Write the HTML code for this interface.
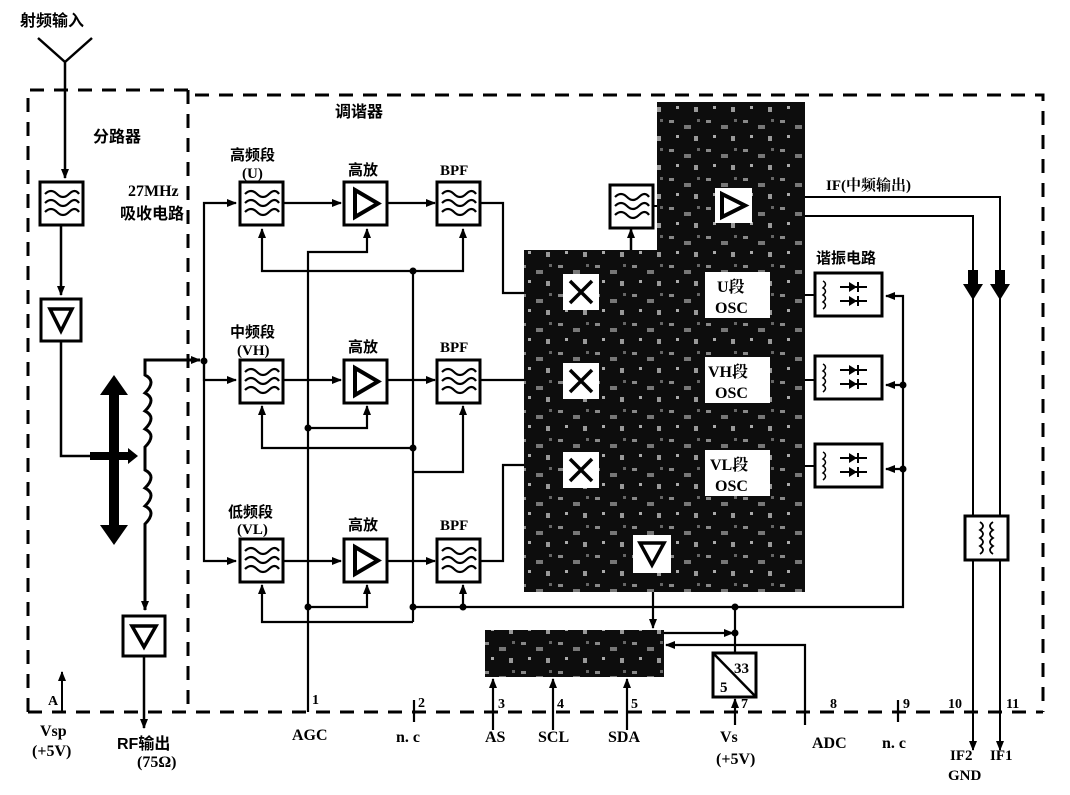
<!DOCTYPE html>
<html><head><meta charset="utf-8"><style>
html,body{margin:0;padding:0;background:#fff}
svg{display:block}
text{font-family:"Liberation Serif","Noto Serif CJK SC",serif;font-weight:bold;fill:#000}
.c{font-family:"Liberation Sans","Noto Sans CJK SC",sans-serif;font-weight:bold}
</style></head><body>
<svg width="1070" height="795" viewBox="0 0 1070 795" xmlns="http://www.w3.org/2000/svg">
<defs>
<marker id="a" markerWidth="10" markerHeight="10" refX="9" refY="5" orient="auto" markerUnits="userSpaceOnUse"><path d="M0,1 L10,5 L0,9 Z" fill="#000"/></marker>
<g id="flt"><rect x="0" y="0" width="43" height="43" fill="#fff" stroke="#000" stroke-width="3"/>
<path d="M5,12 q6,-6 12,0 t12,0 t10,0 M5,21 q6,-6 12,0 t12,0 t10,0 M5,30 q6,-6 12,0 t12,0 t10,0" fill="none" stroke="#000" stroke-width="2.2"/></g>
<g id="amp"><rect x="0" y="0" width="43" height="43" fill="#fff" stroke="#000" stroke-width="3"/><path d="M11,8 L34,21.5 L11,35 Z" fill="none" stroke="#000" stroke-width="4"/></g>
<g id="res"><rect x="0" y="0" width="67" height="43" fill="#fff" stroke="#000" stroke-width="3"/>
<path d="M8,8 q5,3 0,7 q5,3 0,7 q5,3 0,7 q5,3 0,7" fill="none" stroke="#000" stroke-width="1.5"/>
<path d="M25,14 H52 M25,28 H52" stroke="#000" stroke-width="2"/><path d="M34,9 L42,14 L34,19Z M34,23 L42,28 L34,33Z" fill="#000"/><path d="M43,9 V19 M43,23 V33" stroke="#000" stroke-width="2"/></g>
<pattern id="noise" width="37" height="29" patternUnits="userSpaceOnUse"><rect width="37" height="29" fill="#0d0d0d"/>
<rect x="3" y="4" width="5" height="3" fill="#888"/><rect x="18" y="9" width="7" height="4" fill="#777"/><rect x="28" y="20" width="4" height="5" fill="#999"/><rect x="10" y="19" width="3" height="3" fill="#aaa"/><rect x="31" y="3" width="3" height="3" fill="#666"/></pattern>
</defs>

<!-- dashed frames -->
<g fill="none" stroke="#000" stroke-width="3" stroke-dasharray="14,10">
<path d="M28,712 V90 H188"/>
<path d="M188,90 V712"/>
<path d="M195,95 H1043 V712"/>
<path d="M28,712 H1043"/>
</g>

<!-- antenna -->
<path d="M38,38 L65,62 L92,38 M65,62 V178" fill="none" stroke="#000" stroke-width="2.5" marker-end="url(#a)"/>
<text class="c" x="20" y="26" font-size="16">射频输入</text>
<use href="#flt" x="40" y="182"/>
<text x="128" y="196" font-size="16">27MHz</text>
<text class="c" x="120" y="219" font-size="16">吸收电路</text>
<text class="c" x="93" y="142" font-size="16">分路器</text>
<text class="c" x="335" y="117" font-size="16">调谐器</text>
<path d="M61,225 V295" stroke="#000" stroke-width="2.5" marker-end="url(#a)"/>
<rect x="41" y="299" width="40" height="42" fill="#fff" stroke="#000" stroke-width="3"/>
<path d="M50,309 L72,309 L61,331 Z" fill="none" stroke="#000" stroke-width="3.5"/>
<path d="M61,341 V456 H105" fill="none" stroke="#000" stroke-width="2.5"/>
<path d="M90,452 H128 L128,448 L138,456 L128,464 L128,460 H90 Z" fill="#000"/>
<!-- big double arrow -->
<path d="M114,375 L128,395 L119,395 L119,525 L128,525 L114,545 L100,525 L109,525 L109,395 L100,395 Z" fill="#000"/>
<!-- coil -->
<path d="M200,360 H145 V375 q12,6 0,18 q12,6 0,18 q12,6 0,18 q12,6 0,18 V456 V470 q12,6 0,18 q12,6 0,18 q12,6 0,18 V610" fill="none" stroke="#000" stroke-width="3" marker-end="url(#a)"/>
<path d="M180,360 H200" stroke="#000" stroke-width="2.5" marker-end="url(#a)"/>
<rect x="123" y="616" width="42" height="40" fill="#fff" stroke="#000" stroke-width="3"/>
<path d="M132,626 L156,626 L144,647 Z" fill="none" stroke="#000" stroke-width="3.5"/>
<path d="M144,656 V728" stroke="#000" stroke-width="2.5" marker-end="url(#a)"/>
<text class="c" x="117" y="749" font-size="16">RF输出</text>
<text x="137" y="767" font-size="16">(75Ω)</text>
<path d="M62,712 V672" stroke="#000" stroke-width="2" marker-end="url(#a)"/>
<text x="48" y="705" font-size="14">A</text>
<text x="40" y="736" font-size="16">Vsp</text>
<text x="32" y="756" font-size="16">(+5V)</text>

<!-- bus -->
<g fill="none" stroke="#000" stroke-width="2.2">
<path d="M204,361 V203 H236" marker-end="url(#a)"/>
<path d="M204,361 V380 H236" marker-end="url(#a)"/>
<path d="M204,361 V561 H236" marker-end="url(#a)"/>
<path d="M283,203 H341" marker-end="url(#a)"/>
<path d="M283,380 H341" marker-end="url(#a)"/>
<path d="M283,561 H341" marker-end="url(#a)"/>
<path d="M387,203 H435" marker-end="url(#a)"/>
<path d="M387,380 H435" marker-end="url(#a)"/>
<path d="M387,561 H435" marker-end="url(#a)"/>
<path d="M480,203 H503 V293 H527"/>
<path d="M480,380 H527"/>
<path d="M480,561 H503 V465 H527"/>
<!-- controls -->
<path d="M413,271 H262 V229" marker-end="url(#a)"/>
<path d="M413,271 H463 V229" marker-end="url(#a)"/>
<path d="M413,448 H262 V406" marker-end="url(#a)"/>
<path d="M413,472 H463 V406" marker-end="url(#a)"/>
<path d="M413,622 H262 V585" marker-end="url(#a)"/>
<path d="M413,271 V622"/>
<path d="M413,607 H903 V296 H886" marker-end="url(#a)"/>
<path d="M463,607 V585" marker-end="url(#a)"/>
<path d="M903,385 H886" marker-end="url(#a)"/>
<path d="M903,469 H886" marker-end="url(#a)"/>
<!-- AGC -->
<path d="M308,712 V252 H367 V229" marker-end="url(#a)"/>
<path d="M308,428 H367 V406" marker-end="url(#a)"/>
<path d="M308,607 H367 V585" marker-end="url(#a)"/>
</g>
<g fill="#000"><circle cx="204" cy="361" r="3.5"/><circle cx="413" cy="271" r="3.5"/><circle cx="413" cy="448" r="3.5"/><circle cx="413" cy="607" r="3.5"/><circle cx="463" cy="607" r="3.5"/><circle cx="308" cy="428" r="3.5"/><circle cx="308" cy="607" r="3.5"/><circle cx="735" cy="607" r="3.5"/><circle cx="903" cy="385" r="3.5"/><circle cx="903" cy="469" r="3.5"/><circle cx="735" cy="633" r="3.5"/></g>

<use href="#flt" x="240" y="182"/><use href="#flt" x="240" y="360"/><use href="#flt" x="240" y="539"/>
<use href="#amp" x="344" y="182"/><use href="#amp" x="344" y="360"/><use href="#amp" x="344" y="539"/>
<use href="#flt" x="437" y="182"/><use href="#flt" x="437" y="360"/><use href="#flt" x="437" y="539"/>
<g class="c" font-size="15">
<text class="c" x="230" y="160">高频段</text><text x="242" y="178">(U)</text>
<text class="c" x="230" y="337">中频段</text><text x="237" y="355">(VH)</text>
<text class="c" x="228" y="517">低频段</text><text x="237" y="534">(VL)</text>
<text class="c" x="348" y="175">高放</text><text class="c" x="348" y="352">高放</text><text class="c" x="348" y="530">高放</text>
<text x="440" y="175">BPF</text><text x="440" y="352">BPF</text><text x="440" y="530">BPF</text>
</g>

<!-- dark IC -->
<path d="M657,102 H805 V592 H524 V250 H657 Z" fill="url(#noise)"/>
<g fill="#fff"><rect x="563" y="274" width="36" height="36"/><rect x="563" y="363" width="36" height="36"/><rect x="563" y="452" width="36" height="36"/>
<rect x="705" y="272" width="65" height="46"/><rect x="705" y="357" width="65" height="46"/><rect x="705" y="450" width="65" height="46"/>
<rect x="715" y="188" width="37" height="35"/><rect x="633" y="535" width="38" height="38"/></g>
<g stroke="#000" stroke-width="3.5"><path d="M570,281 L592,303 M592,281 L570,303 M570,370 L592,392 M592,370 L570,392 M570,459 L592,481 M592,459 L570,481"/></g>
<path d="M722,194 L745,205.5 L722,217 Z" fill="none" stroke="#000" stroke-width="4"/>
<path d="M640,543 L664,543 L652,565 Z" fill="none" stroke="#000" stroke-width="3.5"/>
<g font-size="16"><text x="717" y="292">U段</text><text x="715" y="313">OSC</text>
<text x="708" y="377">VH段</text><text x="715" y="398">OSC</text>
<text x="710" y="470">VL段</text><text x="715" y="491">OSC</text></g>
<use href="#flt" x="610" y="185"/>
<path d="M653,206 H657" stroke="#000" stroke-width="2"/>
<path d="M631,250 V229" stroke="#000" stroke-width="2.5" marker-end="url(#a)"/>

<!-- resonators -->
<use href="#res" x="815" y="273"/><use href="#res" x="815" y="356"/><use href="#res" x="815" y="444"/>
<path d="M805,295 H815 M805,380 H815 M805,466 H815" stroke="#000" stroke-width="2"/>
<text class="c" x="816" y="263" font-size="15">谐振电路</text>

<!-- IF -->
<text x="826" y="190" font-size="15">IF(中频输出)</text>
<path d="M805,197 H1000 V750" fill="none" stroke="#000" stroke-width="2" marker-end="url(#a)"/>
<path d="M805,216 H973 V750" fill="none" stroke="#000" stroke-width="2" marker-end="url(#a)"/>
<path d="M968,270 H978 V284 H983 L973,300 L963,284 H968Z M995,270 H1005 V284 H1010 L1000,300 L990,284 H995Z" fill="#000"/>
<rect x="965" y="516" width="43" height="44" fill="#fff" stroke="#000" stroke-width="3"/>
<path d="M980,522 q6,4 0,8 q6,4 0,8 q6,4 0,8 q6,4 0,8 M993,522 q-6,4 0,8 q-6,4 0,8 q-6,4 0,8 q-6,4 0,8" fill="none" stroke="#000" stroke-width="1.8"/>
<text x="950" y="760" font-size="15">IF2</text><text x="990" y="760" font-size="15" fill="#444">IF1</text>
<text x="948" y="780" font-size="15">GND</text>

<!-- control block -->
<rect x="485" y="630" width="179" height="47" fill="url(#noise)"/>
<path d="M653,592 V628" stroke="#000" stroke-width="2.2" marker-end="url(#a)"/>
<path d="M664,633 H733" stroke="#000" stroke-width="2.2" marker-end="url(#a)"/>
<path d="M805,725 V645 H666" fill="none" stroke="#000" stroke-width="2.2" marker-end="url(#a)"/>
<path d="M735,607 V653" stroke="#000" stroke-width="2.2"/>
<rect x="713" y="653" width="43" height="44" fill="#fff" stroke="#000" stroke-width="3"/>
<path d="M713,653 L756,697" stroke="#000" stroke-width="2.5"/>
<text x="734" y="673" font-size="15">33</text><text x="720" y="692" font-size="15">5</text>
<g stroke="#000" stroke-width="2.2" fill="none">
<path d="M493,730 V679" marker-end="url(#a)"/>
<path d="M553,730 V679" marker-end="url(#a)"/>
<path d="M627,730 V679" marker-end="url(#a)"/>
<path d="M735,725 V699" marker-end="url(#a)"/>
<path d="M414,700 V722 M898,700 V722"/>
</g>
<g font-size="14"><text x="312" y="704">1</text><text x="418" y="707">2</text><text x="498" y="708">3</text><text x="557" y="708">4</text><text x="631" y="708">5</text><text x="741" y="708">7</text><text x="830" y="708">8</text><text x="903" y="708">9</text><text x="948" y="708">10</text><text x="1006" y="708">11</text></g>
<g font-size="16"><text x="292" y="740">AGC</text><text x="396" y="742">n. c</text><text x="485" y="742">AS</text><text x="538" y="742">SCL</text><text x="608" y="742">SDA</text><text x="720" y="742">Vs</text><text x="716" y="764">(+5V)</text><text x="812" y="748">ADC</text><text x="882" y="748">n. c</text></g>
</svg>
</body></html>
